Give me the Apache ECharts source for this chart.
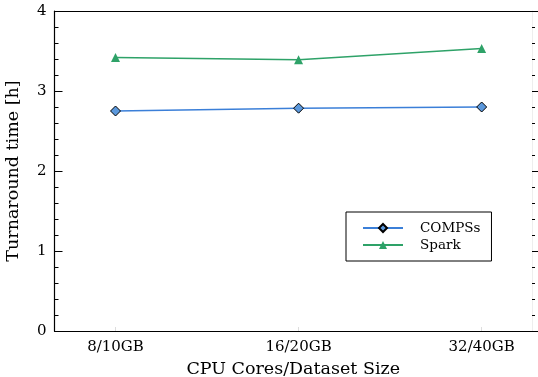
<!DOCTYPE html>
<html>
<head>
<meta charset="utf-8">
<script src="https://cdn.jsdelivr.net/npm/echarts@6/dist/echarts.min.js"></script>
<style>
  html, body { margin: 0; padding: 0; background: #fff; }
  #chart { width: 538px; height: 377px; }
</style>
</head>
<body>
<div id="chart"></div>
<script>
// Scaling configurations (cores / dataset size)
const categories = ['8/10GB', '16/20GB', '32/40GB'];
// Turnaround time in hours
const compssHours = [2.75, 2.785, 2.80];
const sparkHours = [3.42, 3.39, 3.53];
const yTicks = [0, 1, 2, 3, 4];

const FONT = 'DejaVu Serif';
const catIdx = categories.map((_, i) => i);
const toPairs = vals => vals.map((v, i) => [catIdx[i], v]);

const chart = echarts.init(document.getElementById('chart'), null, { renderer: 'canvas' });

chart.setOption({
  animation: false,
  backgroundColor: '#fff',
  grid: {
    left: 54.5, right: 6, top: 11, bottom: 46,
    containLabel: false,
    outerBoundsMode: 'none'
  },
  xAxis: [
    {
      type: 'value',
      position: 'bottom',
      min: -1 / 3,
      max: 2.275,
      name: 'CPU Cores/Dataset Size',
      nameLocation: 'middle',
      nameGap: 29,
      nameTextStyle: { fontFamily: FONT, fontSize: 17.5, color: '#000' },
      axisLine: { show: true, onZero: false, lineStyle: { color: '#000', width: 1.2 } },
      axisTick: {
        show: true, inside: true, length: 4,
        customValues: catIdx,
        lineStyle: { color: '#ddd', width: 1 }
      },
      axisLabel: {
        customValues: catIdx,
        formatter: v => categories[Math.round(v)],
        fontFamily: FONT, fontSize: 15, color: '#000', margin: 9
      },
      splitLine: { show: false }
    },
    {
      type: 'value',
      position: 'top',
      min: -1 / 3,
      max: 2.275,
      axisLine: { show: true, onZero: false, lineStyle: { color: '#000', width: 1.2 } },
      axisTick: { show: false },
      axisLabel: { show: false },
      splitLine: { show: false }
    }
  ],
  yAxis: [
    {
      type: 'value',
      position: 'left',
      min: yTicks[0],
      max: yTicks[yTicks.length - 1],
      interval: 1,
      name: 'Turnaround time [h]',
      nameLocation: 'middle',
      nameGap: 32,
      nameTextStyle: { fontFamily: FONT, fontSize: 17.5, color: '#000' },
      axisLine: { show: true, onZero: false, lineStyle: { color: '#000', width: 1.2 } },
      axisTick: { show: true, inside: true, length: 8, lineStyle: { color: '#000', width: 1 } },
      minorTick: { show: true, splitNumber: 5, length: 4, lineStyle: { color: '#000', width: 1 } },
      axisLabel: { fontFamily: FONT, fontSize: 15, color: '#000', margin: 8 },
      splitLine: { show: false }
    },
    {
      type: 'value',
      position: 'right',
      min: yTicks[0],
      max: yTicks[yTicks.length - 1],
      interval: 1,
      axisLine: { show: true, onZero: false, lineStyle: { color: '#eee', width: 1 } },
      axisTick: { show: true, inside: false, length: 6, lineStyle: { color: '#000', width: 1 } },
      minorTick: { show: true, splitNumber: 5, length: 3, lineStyle: { color: '#000', width: 1 } },
      axisLabel: { show: false },
      splitLine: { show: false }
    }
  ],
  legend: {
    orient: 'vertical',
    left: 346,
    top: 212,
    padding: [9, 11, 9, 16],
    itemGap: 3,
    itemWidth: 40,
    itemHeight: 10,
    borderColor: '#000',
    borderWidth: 1,
    borderRadius: 0,
    backgroundColor: '#fff',
    textStyle: { fontFamily: FONT, fontSize: 13.5, color: '#000', padding: [0, 0, 0, 12] },
    data: ['COMPSs', 'Spark']
  },
  series: [
    {
      name: 'COMPSs',
      type: 'line',
      data: toPairs(compssHours),
      symbol: 'diamond',
      symbolSize: 10,
      lineStyle: { color: '#3b7fd8', width: 1.5 },
      itemStyle: { color: '#5b98dc', borderColor: '#000', borderWidth: 1 },
      emphasis: { disabled: true }
    },
    {
      name: 'Spark',
      type: 'line',
      data: toPairs(sparkHours),
      symbol: 'triangle',
      symbolSize: 9,
      lineStyle: { color: '#2ea268', width: 1.5 },
      itemStyle: { color: '#2ea268', borderWidth: 0 },
      emphasis: { disabled: true }
    }
  ]
});
</script>
</body>
</html>
